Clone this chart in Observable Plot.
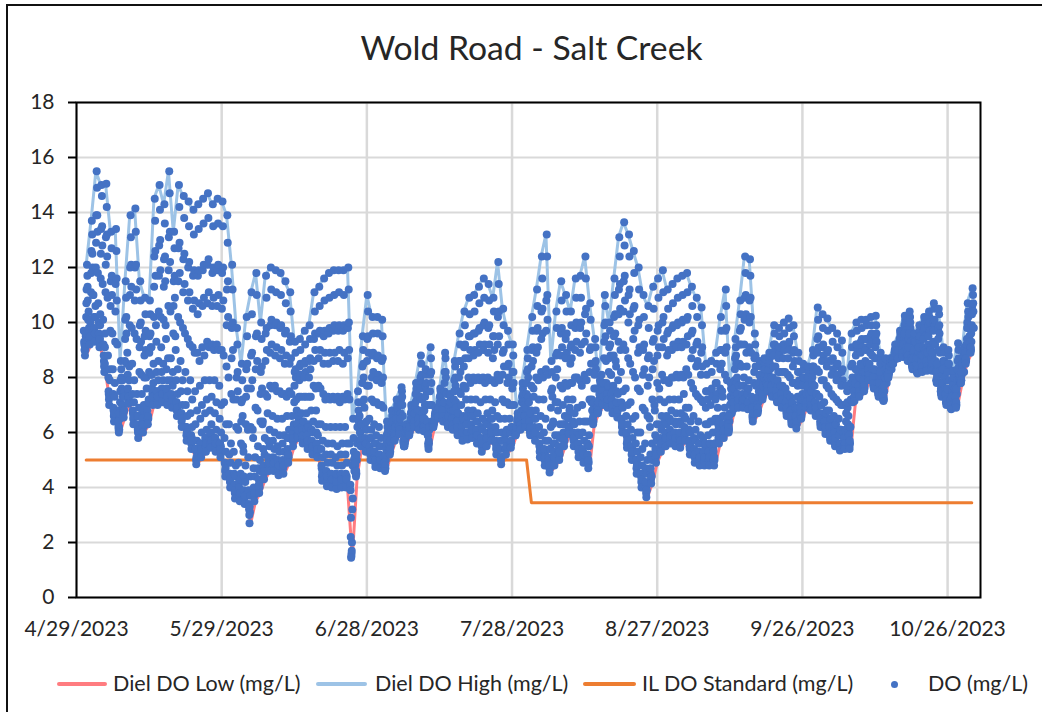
<!DOCTYPE html>
<html>
<head>
<meta charset="utf-8">
<script src="https://cdn.jsdelivr.net/npm/d3@7"></script>
<script src="https://cdn.jsdelivr.net/npm/@observablehq/plot@0.6"></script>
<style>
html,body{margin:0;padding:0;background:#fff;}
#wrap{position:relative;width:1042px;height:712px;overflow:hidden;font-family:Lato,sans-serif;color:#262626;}
#edge{position:absolute;left:6px;top:4px;right:-10px;bottom:-10px;border:2.5px solid #111;}
#title{height:86px;box-sizing:border-box;padding-top:25px;padding-left:21px;text-align:center;font-size:33.7px;line-height:44px;}
#chart svg{display:block;}
#legend{position:relative;height:51px;font-size:21.5px;}
#legend span{position:absolute;top:8px;line-height:28px;white-space:nowrap;}
#legend i{position:absolute;top:21px;height:3.5px;border-radius:2px;}
#legend b{position:absolute;top:20px;width:7px;height:7px;border-radius:50%;background:#4472C4;}
</style>
</head>
<body>
<div id="wrap">
<div id="edge"></div>
<div id="title">Wold Road - Salt Creek</div>
<div id="chart"></div>
<div id="legend">
<i style="left:57px;width:50px;background:#FF7C80"></i><span style="left:113px">Diel DO Low (mg/L)</span>
<i style="left:316px;width:51px;background:#9DC3E6"></i><span style="left:375px">Diel DO High (mg/L)</span>
<i style="left:583px;width:53px;background:#ED7D31"></i><span style="left:642px">IL DO Standard (mg/L)</span>
<b style="left:891px"></b><span style="left:928px">DO (mg/L)</span>
</div>
</div>
<script>
const firstDay = "2023-05-01";
const xTicks = ["2023-04-29","2023-05-29","2023-06-28","2023-07-28","2023-08-27","2023-09-26","2023-10-26"];
const yTicks = [0,2,4,6,8,10,12,14,16,18];
const standardDates = ["2023-05-01","2023-07-31","2023-08-01","2023-10-31"];
const standardValues = [5,5,3.45,3.45];
const dielLow = [8.8,9.2,9.3,9.1,8.2,7,6.4,6,6.55,7.05,6.3,5.8,6,6.3,7,7,7.1,7,6.9,6.6,6.2,5.7,5.4,4.85,5.1,5.3,5.45,5.3,5.1,4.4,4,3.6,3.5,3.4,2.7,3.5,3.8,4.3,4.6,4.6,4.45,4.5,4.9,5.5,5.8,5.6,5.4,5.2,5.1,4.25,4.05,4,3.95,4,4,1.45,4.4,5.5,5.3,5,4.75,4.7,4.6,5.2,5.7,5.95,5.5,5.9,6.2,6.1,6.05,5.4,6.2,6.55,6.4,6.2,6.1,5.9,5.7,5.75,5.8,5.6,5.3,5.5,5.7,5.2,4.85,5.2,5.45,5.9,6.1,6.2,5.9,5.7,5.1,4.8,4.55,4.8,5,5.5,5.95,5.5,5.1,4.9,4.7,6.3,6.7,7,6.9,6.7,6.55,6,5.45,5,4.5,4,3.65,4.15,4.9,5.3,5.5,5.6,5.5,5.45,5.7,5.2,4.9,4.8,4.8,4.8,4.8,5.6,5.8,6,6.85,6.9,6.9,6.85,6.4,6.7,7.2,7.5,7.3,7.1,6.9,6.6,6.3,6.15,6.5,6.9,6.8,6.6,6.2,5.95,5.7,5.5,5.35,5.4,5.4,7.15,7.3,7.5,7.9,7.6,7.3,7.15,8,8.5,8.7,8.75,8.6,8.3,8.15,8.2,8.25,8.25,7.8,7.3,7,6.85,6.9,7.8,8.5,8.9];
const dielHigh = [12.1,13.7,15.5,15,15.05,13.3,13.4,8.6,11.5,13.9,14.15,11.5,10.9,10.8,14.5,15,14.3,15.5,13.3,15,14.6,14.4,14.1,14.3,14.5,14.7,14.3,14.5,14.4,13.9,12.1,9.8,8.5,10.2,11.1,11.8,10,11.7,12,11.9,11.8,11.5,11.1,9.3,9.4,9.7,9.9,11.1,11.3,11.6,11.8,11.9,11.9,11.9,12,6.5,7.5,9.5,11,10.2,10.2,10.1,6.4,6.8,7.2,7.65,6.3,7,7.8,8.8,8.3,9.1,6.9,7.6,8.9,7.4,8.6,9.6,10.4,10.9,11,11.3,11.6,11.4,10.9,12.2,10.5,9.7,9.2,6.7,7.8,9,10.2,11.2,12.4,13.2,8.6,10.4,11.5,11,10.4,11.6,11.7,12.4,10.7,9.4,7.9,11,10,11.6,13.1,13.65,13.2,12.6,12,11,10.6,11.3,11.6,11.9,11.2,11.4,11.6,11.7,11.8,11.3,10.9,10.55,8.5,8.6,8.9,10.2,11.2,7.8,9.4,10.8,12.4,12.3,9.6,8.6,8.7,8.9,9.9,9.8,10,10.15,9.9,8.9,8.5,8.4,9,10.55,10.3,10.15,9.8,9.6,9.35,7.7,9.6,10,10.1,10.1,10.2,10.25,8.9,8.7,8.7,9.2,9.7,10.25,10.4,9.6,9.9,10.2,10.4,10.7,10.5,9.1,9,8.25,9.25,9,10.7,11.25];
const doHours = [0,2,4,8,10,12,14,18,20,22];
const extraHours = [3,5,7,9,13,19];
const lowHour = 6, highHour = 16;
const doReadings = [
[9.7,9.3,9,9,9.5,10.2,11.2,11.7,10.8,10.1],[10.4,9.8,9.5,9.4,10.1,11.1,12.6,13.2,12,11],[11,10.2,9.7,9.6,10.6,12,13.9,14.9,13.3,11.8],[10.7,10,9.5,9.4,10.3,11.6,13.4,14.6,12.8,11.4],[10.1,9.2,8.6,8.5,9.6,11.1,13.1,14.2,12.4,10.9],[8.8,8,7.4,7.3,8.3,9.7,11.5,12.7,11,9.6],[8.3,7.4,6.8,6.7,7.8,9.3,11.4,12.6,10.8,9.2],[6.8,6.4,6.2,6.1,6.5,7.1,7.9,8.3,7.6,7],[7.9,7.3,6.8,6.8,7.5,8.6,10.1,10.9,9.6,8.5],[8.9,8.1,7.4,7.3,8.4,9.9,12,13.1,11.3,9.8],
[8.5,7.4,6.7,6.6,7.9,9.6,12,13.3,11.2,9.4],[7.4,6.6,6.1,6,6.9,8.2,9.9,10.8,9.3,8.1],[7.4,6.7,6.3,6.2,7,8,9.5,10.3,9,8],[7.6,7,6.6,6.5,7.2,8.2,9.5,10.3,9.1,8.1],[9.1,8.1,7.4,7.3,8.5,10.2,12.4,13.7,11.7,9.9],[9.3,8.2,7.5,7.4,8.6,10.4,12.8,14.1,11.9,10.2],[9.1,8.2,7.5,7.4,8.5,10.1,12.3,13.6,11.5,9.9],[9.4,8.3,7.5,7.4,8.7,10.6,13.1,14.7,12.2,10.4],[8.7,7.9,7.3,7.2,8.2,9.6,11.5,12.7,10.9,9.5],[9,7.9,7.1,7,8.3,10.2,12.7,14.2,11.8,10],
[8.6,7.5,6.7,6.6,7.9,9.8,12.3,13.8,11.4,9.6],[8.2,7,6.2,6.1,7.5,9.4,12,13.5,11.1,9.2],[7.9,6.7,5.9,5.8,7.2,9.1,11.7,13.2,10.8,8.9],[7.5,6.3,5.4,5.3,6.8,8.9,11.7,13.4,10.7,8.6],[7.7,6.5,5.6,5.5,7,9.1,11.9,13.6,10.9,8.8],[7.9,6.7,5.8,5.7,7.2,9.3,12.1,13.8,11.1,9.1],[7.9,6.8,6,5.9,7.3,9.2,11.8,13.5,10.9,9],[7.9,6.7,5.8,5.7,7.1,9.2,11.9,13.6,11,9],[7.7,6.5,5.6,5.5,7,9,11.8,13.5,10.8,8.8],[7.1,5.8,4.9,4.8,6.3,8.4,11.2,12.9,10.2,8],
[6.3,5.2,4.5,4.4,5.6,7.4,9.8,11.2,9,7.2],[5.3,4.5,3.9,3.8,4.8,6.2,8,9.2,7.5,6.1],[4.9,4.2,3.8,3.7,4.5,5.6,7.1,7.9,6.6,5.5],[5.3,4.4,3.8,3.7,4.8,6.3,8.3,9.5,7.6,6.1],[5.1,3.9,3.2,3.1,4.4,6.2,8.8,10.3,7.9,6.1],[5.8,4.7,3.9,3.8,5.1,6.9,9.5,11,8.6,6.8],[5.5,4.7,4.1,4,5,6.4,8.2,9.4,7.6,6.3],[6.4,5.4,4.7,4.6,5.8,7.4,9.6,10.9,9,7.3],[6.7,5.7,5,4.9,6.1,7.7,9.9,11.2,9.2,7.6],[6.6,5.7,5,4.9,6,7.7,9.9,11.1,9.1,7.5],
[6.5,5.5,4.9,4.8,5.9,7.5,9.8,11,9,7.4],[6.5,5.6,4.9,4.8,5.9,7.4,9.6,10.7,8.8,7.3],[6.6,5.8,5.2,5.1,6.1,7.5,9.3,10.4,8.7,7.4],[6.6,6,5.7,5.7,6.3,7.1,8.2,8.9,8,7.2],[6.8,6.3,6,6,6.5,7.3,8.4,9,8.1,7.3],[6.7,6.2,5.8,5.8,6.4,7.3,8.5,9.2,8.2,7.3],[6.7,6.1,5.7,5.6,6.3,7.3,8.6,9.4,8.3,7.3],[6.8,6.1,5.5,5.5,6.4,7.7,9.4,10.4,9,7.6],[6.8,6,5.5,5.4,6.3,7.7,9.6,10.6,9,7.6],[6.3,5.4,4.7,4.6,5.7,7.4,9.5,10.8,8.9,7.2],
[6.2,5.2,4.5,4.4,5.6,7.3,9.6,10.9,8.9,7.2],[6.2,5.2,4.4,4.3,5.6,7.3,9.7,11,8.9,7.2],[6.2,5.1,4.4,4.3,5.5,7.3,9.7,11.1,9,7.1],[6.2,5.2,4.4,4.4,5.6,7.3,9.7,11,8.9,7.2],[6.2,5.2,4.4,4.4,5.6,7.4,9.8,11.2,9,7.2],[5.6,4.1,2.2,1.6,2,3.2,3.6,5.8,5,4.6],[5.1,4.8,4.6,4.5,5,5.6,6.5,7.1,6.4,5.7],[6.6,6,5.7,5.7,6.3,7.1,8.4,9,8,7.2],[6.9,6.2,5.6,5.6,6.4,7.7,9.4,10.4,8.9,7.7],[6.5,5.8,5.3,5.3,6.1,7.2,8.8,9.6,8.2,7.1],
[6.3,5.6,5.1,5,5.9,7.1,8.7,9.6,8.1,7],[6.2,5.5,5,5,5.8,7,8.6,9.5,8,6.9],[5.1,4.9,4.7,4.7,5,5.4,5.9,6.2,5.8,5.3],[5.6,5.4,5.3,5.3,5.5,5.9,6.3,6.6,6.2,5.9],[6.1,5.9,5.8,5.8,6,6.3,6.8,7,6.6,6.3],[6.4,6.2,6,6,6.3,6.7,7.2,7.5,7,6.6],[5.7,5.6,5.5,5.6,5.7,5.8,6.1,6.2,6,5.9],[6.2,6,5.9,6,6.1,6.4,6.7,6.9,6.6,6.3],[6.6,6.4,6.3,6.3,6.5,6.9,7.4,7.6,7.2,6.8],[6.8,6.4,6.2,6.2,6.6,7.3,8,8.5,7.8,7.2],
[6.7,6.3,6.2,6.1,6.5,7,7.7,8.1,7.5,7],[6.4,5.9,5.6,5.6,6.1,7,8.1,8.7,7.8,7],[6.4,6.3,6.2,6.3,6.4,6.5,6.7,6.8,6.6,6.5],[6.8,6.7,6.6,6.6,6.8,7,7.3,7.5,7.2,6.9],[7.1,6.7,6.5,6.5,6.9,7.5,8.2,8.7,8,7.4],[6.5,6.4,6.3,6.3,6.5,6.7,7.1,7.3,7,6.7],[6.8,6.5,6.2,6.2,6.6,7.2,7.9,8.4,7.7,7.1],[6.9,6.4,6.1,6.1,6.6,7.5,8.6,9.2,8.2,7.4],[7,6.4,5.9,5.9,6.6,7.7,9.1,9.9,8.7,7.6],[7.2,6.5,6,6,6.8,8,9.5,10.3,9,7.8],
[7.2,6.6,6.1,6.1,6.8,8,9.6,10.4,9,7.9],[7.2,6.4,5.9,5.9,6.7,8,9.7,10.7,9.2,7.9],[7.1,6.2,5.7,5.6,6.5,8,9.9,10.9,9.2,7.8],[7.2,6.4,5.8,5.8,6.7,8,9.8,10.8,9.2,7.9],[7.2,6.5,6,6,6.8,7.9,9.5,10.4,9,7.8],[7.1,6.2,5.6,5.5,6.6,8.1,10.2,11.4,9.5,7.9],[6.5,5.7,5.1,5.1,6,7.2,8.9,9.9,8.4,7.1],[6.5,5.9,5.4,5.4,6.1,7.1,8.4,9.2,8,7],[6.5,6,5.6,5.6,6.2,7,8.2,8.8,7.8,7],[6.1,6,5.9,6,6.1,6.2,6.5,6.6,6.4,6.3],
[6.6,6.3,6.2,6.2,6.4,6.8,7.3,7.6,7.2,6.8],[7,6.6,6.3,6.3,6.8,7.4,8.2,8.7,8,7.3],[7.1,6.5,6.1,6.1,6.8,7.7,9,9.7,8.6,7.6],[7.3,6.5,6,5.9,6.8,8,9.7,10.6,9.1,7.9],[7.2,6.2,5.5,5.4,6.6,8.2,10.4,11.6,9.6,8],[7.2,6,5.3,5.2,6.5,8.3,10.8,12.4,10.1,8.1],[5.7,5.1,4.8,4.7,5.4,6.2,7.5,8.2,7.3,6.3],[6.4,5.6,5.1,5,5.9,7.1,8.8,9.8,8.3,7.1],[6.8,5.9,5.3,5.2,6.3,7.7,9.6,10.8,9.1,7.6],[7,6.3,5.8,5.7,6.6,7.8,9.4,10.4,8.9,7.7],
[7.2,6.6,6.2,6.1,6.9,7.8,9.1,9.9,8.7,7.8],[7.2,6.4,5.8,5.8,6.7,8,9.8,10.9,9.3,8],[6.9,6,5.5,5.4,6.4,7.9,9.8,10.9,9.2,7.7],[7,6,5.3,5.2,6.4,8.1,10.3,11.6,9.6,7.9],[6.4,5.6,5,4.9,5.9,7.2,9,10.1,8.5,7.1],[7.2,6.8,6.5,6.4,6.9,7.6,8.5,9.1,8.3,7.6],[7,6.9,6.8,6.8,7,7.2,7.6,7.8,7.4,7.2],[8.1,7.6,7.2,7.2,7.8,8.7,9.9,10.6,9.5,8.6],[7.8,7.3,7.1,7,7.5,8.2,9.1,9.7,8.8,8.1],[8.1,7.4,7,6.9,7.7,8.8,10.2,11,9.6,8.6],
[8.4,7.5,6.9,6.8,7.9,9.3,11.2,12.4,10.5,9],[8.2,7.1,6.4,6.3,7.5,9.2,11.5,12.8,10.8,9],[7.6,6.6,5.9,5.8,7,8.7,11,12.4,10.3,8.5],[7.1,6.1,5.5,5.4,6.5,8.2,10.5,11.8,9.7,8],[6.6,5.6,5,4.9,6,7.6,9.9,11.2,9.1,7.5],[6,5.1,4.4,4.3,5.4,6.9,9,10.2,8.3,6.8],[5.6,4.7,4,3.9,5,6.6,8.7,9.8,8,6.5],[6.2,5.2,4.5,4.4,5.6,7.2,9.3,10.5,8.6,7],[6.8,5.9,5.3,5.2,6.3,7.8,9.7,10.9,9.1,7.6],[7.2,6.3,5.7,5.6,6.6,8.1,10,11.1,9.4,7.9],
[7.1,6.4,5.8,5.8,6.6,7.9,9.6,10.5,9,7.8],[7.2,6.5,5.9,5.9,6.8,8,9.8,10.7,9.2,8],[7.2,6.4,5.9,5.8,6.7,8.1,9.9,10.9,9.3,8],[7.2,6.4,5.8,5.8,6.7,8.1,10,11,9.3,8],[7.4,6.6,6,6,6.9,8.3,10.1,11.1,9.5,8.1],[6.9,6.1,5.5,5.5,6.4,7.8,9.6,10.6,9,7.6],[6.6,5.8,5.2,5.2,6.1,7.4,9.2,10.2,8.6,7.3],[6.4,5.6,5.1,5.1,5.9,7.2,8.9,9.9,8.4,7.1],[5.8,5.3,5,5,5.5,6.3,7.5,8.1,7.2,6.3],[5.9,5.3,5,5,5.5,6.4,7.5,8.2,7.3,6.4],
[6,5.4,5,5,5.6,6.5,7.8,8.5,7.4,6.5],[6.9,6.3,5.8,5.8,6.5,7.6,9,9.7,8.5,7.5],[7.3,6.6,6.1,6.1,6.9,8.1,9.7,10.6,9.1,7.9],[6.5,6.3,6.1,6.1,6.4,6.7,7.3,7.6,7.1,6.7],[7.5,7.2,7,7,7.3,7.9,8.7,9.1,8.5,7.8],[8,7.4,7.1,7.1,7.7,8.5,9.7,10.3,9.2,8.4],[8.4,7.7,7.2,7.2,8,9.2,10.9,11.8,10.3,8.9],[8.4,7.6,7.1,7.1,7.9,9.1,10.8,11.7,10.2,8.9],[7.3,6.9,6.6,6.6,7,7.8,8.7,9.2,8.4,7.7],[7.2,7,6.8,6.8,7.1,7.5,8.1,8.4,7.9,7.4],
[7.6,7.4,7.3,7.3,7.5,7.8,8.3,8.5,8.1,7.8],[7.9,7.7,7.6,7.6,7.8,8.1,8.5,8.7,8.3,8],[8,7.6,7.4,7.4,7.8,8.4,9.2,9.6,9,8.4],[7.8,7.4,7.2,7.2,7.7,8.2,9.1,9.5,8.9,8.2],[7.7,7.3,7.1,7.1,7.5,8.2,9.2,9.6,9,8.2],[7.6,7.1,6.8,6.8,7.3,8.1,9.2,9.8,9,8],[7.3,6.8,6.5,6.5,7,7.8,8.9,9.5,8.6,7.8],[6.9,6.5,6.3,6.3,6.7,7.3,8.2,8.6,7.9,7.3],[7.1,6.8,6.6,6.6,6.9,7.4,8,8.3,7.8,7.3],[7.3,7.1,7,7,7.2,7.5,8,8.2,7.8,7.5],
[7.4,7.1,6.9,6.9,7.2,7.8,8.4,8.8,8.2,7.7],[7.7,7.1,6.8,6.8,7.4,8.3,9.4,10.1,9.1,8.2],[7.3,6.7,6.4,6.4,7,7.9,9.1,9.8,8.8,7.9],[7.1,6.5,6.2,6.1,6.8,7.7,8.9,9.7,8.6,7.6],[6.8,6.3,5.9,5.9,6.5,7.4,8.6,9.3,8.3,7.3],[6.6,6.1,5.7,5.7,6.3,7.2,8.4,9.1,8.1,7.1],[6.5,5.9,5.5,5.5,6.1,7,8.2,8.9,7.9,7],[6,5.7,5.5,5.5,5.9,6.4,7,7.5,6.9,6.3],[6.6,6,5.6,5.6,6.2,7.2,8.4,9.1,8,7.1],[7.9,7.6,7.3,7.3,7.7,8.3,9.2,9.7,9,8.3],
[8.1,7.7,7.4,7.4,7.8,8.5,9.3,9.8,9.1,8.4],[8.2,7.8,7.6,7.6,8,8.6,9.4,9.9,9.1,8.5],[8.5,8.2,8,8,8.3,8.9,9.5,9.9,9.3,8.8],[8.3,7.9,7.7,7.7,8.1,8.7,9.5,9.9,9.3,8.7],[7.8,7.5,7.4,7.4,7.7,8,8.5,8.7,8.3,8],[7.6,7.4,7.2,7.2,7.5,7.8,8.3,8.5,8.1,7.8],[8.2,8.1,8,8.1,8.2,8.3,8.5,8.6,8.4,8.3],[8.7,8.6,8.5,8.6,8.7,8.8,9,9.1,8.9,8.8],[9,8.8,8.7,8.8,8.9,9.1,9.4,9.6,9.3,9],[9.2,8.9,8.8,8.8,9.1,9.4,9.9,10.1,9.7,9.3],
[9.1,8.8,8.7,8.7,9,9.4,10,10.2,9.8,9.3],[8.7,8.5,8.4,8.4,8.6,8.9,9.3,9.5,9.2,8.8],[8.7,8.4,8.2,8.2,8.5,8.9,9.4,9.7,9.3,8.9],[8.8,8.5,8.3,8.3,8.6,9.1,9.7,10,9.5,9],[8.9,8.5,8.3,8.3,8.7,9.2,9.9,10.2,9.7,9.1],[9,8.6,8.4,8.4,8.8,9.3,10,10.5,9.9,9.2],[8.6,8.2,7.9,7.9,8.4,9,9.8,10.3,9.6,8.9],[7.8,7.5,7.4,7.4,7.7,8.1,8.6,8.9,8.5,8],[7.6,7.3,7.1,7.1,7.4,7.9,8.5,8.8,8.3,7.9],[7.3,7.1,6.9,6.9,7.2,7.5,7.9,8.1,7.8,7.4],
[7.6,7.2,7,7,7.4,7.9,8.6,9,8.4,7.9],[8.1,7.9,7.9,7.9,8.1,8.3,8.7,8.9,8.6,8.2],[9.1,8.8,8.6,8.6,8.9,9.4,10,10.4,9.8,9.3],[9.5,9.2,9,9,9.3,9.9,10.6,11,10.4,9.8]
];
const doExtra = [
[9.2,9,9.1,9.6,10.7,11.3],[9.7,9.4,9.5,10,11.8,12.5],[9.8,9.5,9.6,10.2,12.9,13.9],[9.6,9.3,9.4,9.9,12.5,13.5],[8.8,8.4,8.5,9.1,12.1,13.2],[7.5,7.2,7.3,7.9,10.6,11.7],[6.9,6.6,6.7,7.3,10.4,11.6],[6.4,6.1,6.2,6.7,7.5,8],[7,6.7,6.8,7.3,9.4,10.2],[7.6,7.2,7.3,7.9,11,12.1],
[6.8,6.5,6.6,7.1,10.8,12.1],[6.3,6,6.1,6.6,9.1,10],[6.5,6.2,6.3,6.8,8.8,9.7],[6.8,6.5,6.6,7.1,8.9,9.6],[7.6,7.2,7.3,7.8,11.3,12.6],[7.5,7.2,7.3,7.9,11.7,13],[7.6,7.3,7.4,7.9,11.3,12.4],[7.6,7.2,7.3,7.9,11.9,13.3],[7.4,7.1,7.2,7.7,10.6,11.7],[7.1,6.8,6.9,7.4,11.5,12.9],
[6.7,6.4,6.5,7,11.1,12.5],[6.2,5.9,6,6.6,10.8,12.2],[5.9,5.6,5.7,6.2,10.5,11.9],[5.4,5,5.1,5.7,10.3,11.9],[5.6,5.3,5.4,6,10.6,12.1],[5.8,5.5,5.6,6.1,10.7,12.3],[6,5.6,5.7,6.3,10.6,12],[5.8,5.5,5.6,6.1,10.6,12.1],[5.6,5.3,5.4,6,10.5,12],[4.9,4.6,4.7,5.3,9.9,11.5],
[4.5,4.2,4.3,4.9,8.7,10],[4.1,3.8,3.9,4.4,7.2,8.2],[4,3.7,3.8,4.3,6.4,7.2],[3.9,3.6,3.7,4.2,7.3,8.5],[3.4,3,3.3,3.7,7.6,8.9],[4,3.7,3.8,4.4,8.3,9.6],[4.3,4,4.1,4.6,7.4,8.4],[4.8,4.5,4.6,5.2,8.6,9.8],[5.1,4.8,4.9,5.5,8.9,10.1],[5.1,4.8,4.9,5.4,8.8,10],
[5,4.6,4.8,5.3,8.7,9.9],[5,4.7,4.8,5.3,8.5,9.7],[5.4,5.1,5.2,5.8,8.5,9.5],[6,5.7,5.8,6.2,7.7,8.3],[6.3,5.9,6.1,6.6,7.9,8.5],[6.1,5.8,5.9,6.4,8,8.6],[5.9,5.6,5.7,6.2,8,8.7],[5.7,5.4,5.5,6,8.6,9.6],[5.6,5.3,5.4,5.9,8.7,9.7],[4.8,4.4,4.5,5.1,8.5,9.7],
[4.6,4.2,4.4,4.9,8.5,9.8],[4.5,4.2,4.3,4.9,8.6,9.9],[4.5,4.1,4.2,4.8,8.6,9.9],[4.5,4.2,4.3,4.8,8.5,9.9],[4.5,4.2,4.3,4.9,8.7,10],[3.9,2.9,1.5,1.7,4.8,5.3],[4.9,4.5,4.6,5.2,6.2,6.8],[6,5.7,5.8,6.3,7.8,8.5],[5.8,5.5,5.6,6.1,8.6,9.5],[5.5,5.2,5.3,5.8,8,8.9],
[5.3,4.9,5,5.6,7.9,8.8],[5.2,4.9,5,5.5,7.8,8.7],[4.9,4.7,4.8,5.2,5.6,6],[5.5,5.3,5.4,5.7,6.1,6.4],[6,5.8,5.9,6.2,6.5,6.9],[6.2,6.1,6.1,6.5,7,7.3],[5.6,5.5,5.6,5.8,6,6.1],[6.1,6,6,6.2,6.5,6.8],[6.5,6.3,6.4,6.7,7.1,7.4],[6.5,6.2,6.3,6.8,7.6,8.1],
[6.5,6.2,6.2,6.8,7.3,7.8],[5.9,5.5,5.7,6.2,7.5,8.2],[6.3,6.2,6.3,6.4,6.6,6.7],[6.7,6.6,6.6,6.9,7.1,7.4],[6.8,6.5,6.6,7.1,7.8,8.2],[6.4,6.3,6.3,6.6,6.9,7.1],[6.5,6.2,6.3,6.8,7.5,8],[6.4,6,6.2,6.7,8,8.6],[6.2,5.9,6,6.5,8.4,9.2],[6.3,5.9,6,6.6,8.7,9.5],
[6.3,6,6.1,6.6,8.8,9.6],[6.1,5.8,5.9,6.4,8.9,9.8],[5.8,5.5,5.6,6.1,9,10],[6,5.7,5.8,6.3,8.9,9.9],[6.2,5.9,6,6.5,8.7,9.5],[5.7,5.4,5.5,6,9.2,10.4],[5.4,5,5.1,5.7,8.1,9],[5.7,5.4,5.5,6,7.8,8.5],[6,5.6,5.7,6.2,7.6,8.2],[6,5.9,6,6.2,6.4,6.5],
[6.4,6.2,6.3,6.6,7.1,7.4],[6.6,6.3,6.4,6.9,7.8,8.3],[6.4,6,6.2,6.7,8.4,9.1],[6.2,5.9,6,6.5,8.9,9.8],[5.6,5.3,5.4,5.9,9.4,10.5],[5.4,5,5.1,5.7,9.7,11],[5,4.7,4.8,5.4,6.9,7.6],[5.3,5,5.1,5.6,8,8.9],[5.5,5.2,5.3,5.8,8.8,9.8],[6,5.7,5.8,6.3,8.7,9.6],
[6.5,6.1,6.2,6.8,8.5,9.2],[6,5.7,5.8,6.3,9,10],[5.6,5.3,5.4,5.9,8.9,10],[5.4,5.1,5.2,5.7,9.3,10.5],[5.2,4.9,5,5.5,8.2,9.1],[6.8,6.4,6.6,7.1,8.1,8.6],[6.9,6.8,6.8,7.1,7.4,7.6],[7.5,7.1,7.3,7.8,9.3,10],[7.4,7,7.2,7.7,8.7,9.2],[7.2,6.9,7,7.5,9.5,10.3],
[7.1,6.7,6.8,7.4,10.3,11.4],[6.5,6.2,6.3,6.9,10.4,11.7],[6,5.6,5.7,6.3,10,11.2],[5.5,5.2,5.3,5.8,9.4,10.6],[5,4.7,4.8,5.3,8.9,10.1],[4.5,4.2,4.3,4.8,8.1,9.2],[4.2,3.8,3.9,4.5,7.7,8.8],[4.7,4.3,4.4,5,8.3,9.4],[5.4,5.1,5.2,5.7,8.8,9.9],[5.8,5.5,5.6,6.1,9.1,10.2],
[6,5.7,5.8,6.3,8.8,9.7],[6.1,5.8,5.9,6.4,9,9.9],[6,5.7,5.8,6.3,9.1,10],[6,5.6,5.7,6.3,9.1,10.1],[6.2,5.9,6,6.5,9.2,10.2],[5.7,5.4,5.5,6,8.7,9.7],[5.4,5.1,5.2,5.7,8.4,9.3],[5.3,5,5.1,5.6,8.1,9.1],[5.3,4.9,5.1,5.6,6.9,7.5],[5.3,5,5.1,5.6,7,7.6],
[5.3,5,5.1,5.6,7.2,7.8],[6.1,5.8,5.9,6.4,8.3,9],[6.3,6,6.1,6.6,8.9,9.8],[6.3,6.1,6.2,6.6,7,7.3],[7.2,7,7.1,7.6,8.3,8.8],[7.4,7.1,7.2,7.7,9.2,9.8],[7.4,7.1,7.2,7.7,10.1,11],[7.4,7,7.1,7.6,10,10.9],[6.9,6.5,6.7,7.2,8.2,8.8],[7,6.8,6.9,7.3,7.8,8.1],
[7.5,7.3,7.4,7.7,8,8.3],[7.8,7.6,7.7,8,8.3,8.5],[7.7,7.4,7.5,8,8.8,9.2],[7.5,7.2,7.3,7.9,8.7,9.1],[7.4,7,7.2,7.7,8.7,9.2],[7.1,6.7,6.9,7.4,8.7,9.3],[6.8,6.4,6.6,7.1,8.4,9],[6.6,6.3,6.4,6.9,7.7,8.2],[6.9,6.6,6.7,7.2,7.7,8],[7.2,7,7.1,7.4,7.7,8],
[7.2,6.9,7,7.5,8,8.4],[7.1,6.7,6.9,7.4,8.9,9.5],[6.7,6.3,6.5,7,8.6,9.2],[6.4,6.1,6.2,6.7,8.4,9],[6.2,5.8,6,6.5,8.1,8.7],[6,5.6,5.8,6.3,7.9,8.5],[5.9,5.5,5.6,6.1,7.7,8.3],[5.8,5.5,5.6,6.1,6.7,7.1],[5.9,5.5,5.7,6.2,7.8,8.5],[7.5,7.2,7.3,7.8,8.8,9.2],
[7.7,7.4,7.5,8,8.9,9.4],[7.9,7.6,7.7,8.2,9,9.4],[8.3,8,8.1,8.5,9.2,9.6],[8,7.7,7.8,8.3,9.1,9.6],[7.6,7.4,7.5,7.8,8.2,8.5],[7.5,7.2,7.3,7.7,8,8.3],[8.1,8,8.1,8.2,8.4,8.5],[8.6,8.5,8.6,8.7,8.9,9],[8.9,8.7,8.8,9,9.3,9.5],[9,8.8,8.9,9.2,9.6,10],
[8.9,8.7,8.8,9.1,9.6,10],[8.6,8.4,8.4,8.7,9,9.3],[8.5,8.2,8.3,8.7,9.1,9.5],[8.6,8.3,8.4,8.8,9.4,9.8],[8.6,8.3,8.4,8.9,9.5,10],[8.7,8.4,8.5,8.9,9.7,10.1],[8.2,7.9,8,8.5,9.4,9.9],[7.6,7.4,7.5,7.8,8.3,8.6],[7.4,7.1,7.2,7.6,8.2,8.5],[7.2,6.9,7,7.3,7.7,8],
[7.3,7,7.1,7.6,8.3,8.7],[8,7.8,7.9,8.2,8.5,8.8],[8.9,8.6,8.7,9.2,9.8,10.2],[9.3,9,9.1,9.6,10.3,10.7]
];

const DAY = 864e5, HOUR = 36e5;
const t0 = Date.parse(firstDay);
const dayAt = i => new Date(t0 + i * DAY);
const lowRows = dielLow.map((v, i) => ({date: dayAt(i), v}));
const highRows = dielHigh.map((v, i) => ({date: dayAt(i), v}));
const stdRows = standardDates.map((d, i) => ({date: new Date(d), v: standardValues[i]}));
const doRows = [];
const sampleTime = (i, h) => new Date(t0 + i * DAY - 12 * HOUR + h * HOUR);
doReadings.forEach((vals, i) => {
  vals.forEach((v, k) => doRows.push({date: sampleTime(i, doHours[k]), v}));
  doExtra[i].forEach((v, k) => doRows.push({date: sampleTime(i, extraHours[k]), v}));
  doRows.push({date: sampleTime(i, lowHour), v: dielLow[i]});
  doRows.push({date: sampleTime(i, highHour), v: dielHigh[i]});
});
const tickDates = xTicks.map(d => new Date(d));
const xStart = tickDates[0];
const xEnd = new Date(+xStart + 186.8 * DAY);

const plot = Plot.plot({
  width: 1042,
  height: 575,
  marginLeft: 76,
  marginRight: 62,
  marginTop: 16,
  marginBottom: 64,
  style: {fontFamily: "Lato, sans-serif", fontSize: "21px", color: "#262626", background: "transparent"},
  x: {type: "utc", domain: [xStart, xEnd]},
  y: {domain: [0, 18]},
  marks: [
    Plot.ruleY(yTicks, {stroke: "#D9D9D9", strokeWidth: 2}),
    Plot.ruleX(tickDates, {stroke: "#D9D9D9", strokeWidth: 2.5}),
    Plot.line(lowRows, {x: "date", y: "v", stroke: "#FF7C80", strokeWidth: 3}),
    Plot.line(highRows, {x: "date", y: "v", stroke: "#9DC3E6", strokeWidth: 3}),
    Plot.line(stdRows, {x: "date", y: "v", stroke: "#ED7D31", strokeWidth: 3}),
    Plot.dot(doRows, {x: "date", y: "v", r: 4, fill: "#4472C4", stroke: "none"}),
    Plot.frame({stroke: "#000", strokeWidth: 2}),
    Plot.axisY({ticks: yTicks, tickSize: 8, tickPadding: 14, strokeWidth: 2, stroke: "#000", fill: "#262626", label: null}),
    Plot.axisX({ticks: tickDates, tickSize: 0, tickPadding: 24, tickFormat: d3.utcFormat("%-m/%-d/%Y"), fill: "#262626", label: null})
  ]
});
document.getElementById("chart").appendChild(plot);
</script>
</body>
</html>
